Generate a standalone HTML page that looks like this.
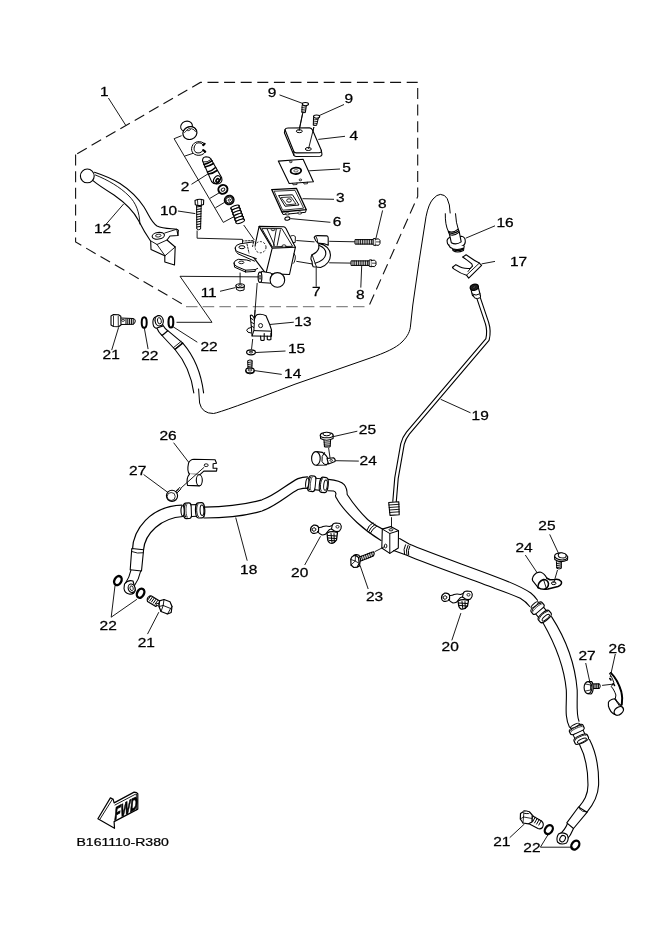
<!DOCTYPE html>
<html><head><meta charset="utf-8"><style>
html,body{margin:0;padding:0;background:#fff;overflow:hidden;}
svg{display:block;will-change:transform;}
text{font-family:"Liberation Sans",sans-serif;font-size:12.4px;fill:#000;stroke:#000;stroke-width:0.25px;}
</style></head><body>
<svg width="661" height="935" viewBox="0 0 661 935">
<rect width="661" height="935" fill="#fff"/>
<path d="M75.6,154.6 V242 L185.8,306" fill="none" stroke="#111" stroke-width="1.1" stroke-dasharray="11 5.6"/>
<path d="M417.7,82.4 H200.4 L75.6,154.6" fill="none" stroke="#111" stroke-width="1.1" stroke-dasharray="11 5.6"/>
<path d="M417.7,82.4 V196.5 L369.2,305.5" fill="none" stroke="#111" stroke-width="1.1" stroke-dasharray="11 5.6" stroke-dashoffset="11"/>
<path d="M186,306.6 L369,306.6" fill="none" stroke="#888" stroke-width="1.1" stroke-dasharray="11.5 5.2"/>
<line x1="108.4" y1="98" x2="125.8" y2="125.4" stroke="#000" stroke-width="0.9"/>
<line x1="279.5" y1="94.9" x2="303.1" y2="103.6" stroke="#000" stroke-width="0.9"/>
<line x1="344" y1="104.5" x2="317.6" y2="116.3" stroke="#000" stroke-width="0.9"/>
<line x1="318.3" y1="139.4" x2="345" y2="136.3" stroke="#000" stroke-width="0.9"/>
<line x1="309.2" y1="170.8" x2="340" y2="169" stroke="#000" stroke-width="0.9"/>
<line x1="302.5" y1="198.7" x2="334" y2="199.3" stroke="#000" stroke-width="0.9"/>
<line x1="290.4" y1="218.6" x2="330.4" y2="222.3" stroke="#000" stroke-width="0.9"/>
<line x1="382.6" y1="210.4" x2="375.9" y2="238.6" stroke="#000" stroke-width="0.9"/>
<line x1="360.8" y1="287.6" x2="361.7" y2="265.8" stroke="#000" stroke-width="0.9"/>
<line x1="316.2" y1="267.7" x2="316.2" y2="286.7" stroke="#000" stroke-width="0.9"/>
<line x1="235.4" y1="287.6" x2="220" y2="291.3" stroke="#000" stroke-width="0.9"/>
<line x1="106.3" y1="224" x2="123.6" y2="204" stroke="#000" stroke-width="0.9"/>
<line x1="177.9" y1="211" x2="195.3" y2="213.6" stroke="#000" stroke-width="0.9"/>
<line x1="269.6" y1="324.5" x2="293.8" y2="322.2" stroke="#000" stroke-width="0.9"/>
<line x1="256" y1="352.5" x2="285.5" y2="351" stroke="#000" stroke-width="0.9"/>
<line x1="254.5" y1="370.6" x2="281.7" y2="374.4" stroke="#000" stroke-width="0.9"/>
<line x1="111.7" y1="350.1" x2="118.6" y2="327.4" stroke="#000" stroke-width="0.9"/>
<line x1="148.1" y1="349.1" x2="144.2" y2="327.4" stroke="#000" stroke-width="0.9"/>
<line x1="197.3" y1="342.2" x2="172.7" y2="326.5" stroke="#000" stroke-width="0.9"/>
<line x1="465.7" y1="238.2" x2="495" y2="225.8" stroke="#000" stroke-width="0.9"/>
<line x1="481.6" y1="263.9" x2="495" y2="261.4" stroke="#000" stroke-width="0.9"/>
<line x1="173.6" y1="442.7" x2="189" y2="462.7" stroke="#000" stroke-width="0.9"/>
<line x1="143.6" y1="474.5" x2="168.1" y2="492.6" stroke="#000" stroke-width="0.9"/>
<line x1="330.8" y1="437.2" x2="357.3" y2="431.2" stroke="#000" stroke-width="0.9"/>
<line x1="335.4" y1="460.7" x2="358.8" y2="461.1" stroke="#000" stroke-width="0.9"/>
<line x1="235.7" y1="517.5" x2="247.2" y2="560.7" stroke="#000" stroke-width="0.9"/>
<line x1="304.7" y1="565" x2="320.5" y2="536.3" stroke="#000" stroke-width="0.9"/>
<line x1="368.2" y1="589" x2="360" y2="565.3" stroke="#000" stroke-width="0.9"/>
<line x1="549.7" y1="534.4" x2="558.7" y2="553.7" stroke="#000" stroke-width="0.9"/>
<line x1="525.3" y1="555" x2="538.2" y2="574.3" stroke="#000" stroke-width="0.9"/>
<line x1="585.7" y1="663" x2="589.6" y2="681" stroke="#000" stroke-width="0.9"/>
<line x1="615.3" y1="654" x2="610.2" y2="677.2" stroke="#000" stroke-width="0.9"/>
<line x1="509.7" y1="837.7" x2="524.5" y2="823.9" stroke="#000" stroke-width="0.9"/>
<polyline points="548.8,833.4 540.4,847.2 573.2,847.2" fill="none" stroke="#000" stroke-width="0.9" stroke-linejoin="miter"/>
<polyline points="115,585.7 111.2,617.2 136.9,599.3" fill="none" stroke="#000" stroke-width="0.9" stroke-linejoin="miter"/>
<line x1="147.5" y1="634.1" x2="158.8" y2="612.2" stroke="#000" stroke-width="0.9"/>
<line x1="451.8" y1="640.4" x2="460.9" y2="613.1" stroke="#000" stroke-width="0.9"/>
<g>
<path d="M302.1,105.6 L301.8,112.6 L305.4,112.6 L306.3,105.6 Z" fill="#fff" stroke="#000" stroke-width="1" stroke-linejoin="round" stroke-linecap="round" />
<path d="M302,107.5 l4,-.6 M301.9,109.5 l3.9,-.6 M301.9,111.3 l3.6,-.5" fill="none" stroke="#000" stroke-width="0.8" stroke-linejoin="round" stroke-linecap="round" />
<ellipse cx="305.4" cy="104.1" rx="3.1" ry="1.6" transform="rotate(0 305.4 104.1)" fill="#fff" stroke="#000" stroke-width="1.1"/>
<line x1="302.7" y1="113.2" x2="299.1" y2="129.8" stroke="#000" stroke-width="0.9"/>
<path d="M313.5,117.9 L313.3,125.4 L316.6,125.4 L318.4,117.9 Z" fill="#fff" stroke="#000" stroke-width="1" stroke-linejoin="round" stroke-linecap="round" />
<path d="M313.4,120 l4.2,-.6 M313.4,122 l3.8,-.6 M313.3,124 l3.4,-.5" fill="none" stroke="#000" stroke-width="0.8" stroke-linejoin="round" stroke-linecap="round" />
<ellipse cx="316.6" cy="116.6" rx="3.1" ry="1.6" transform="rotate(0 316.6 116.6)" fill="#fff" stroke="#000" stroke-width="1.1"/>
<line x1="313.9" y1="127.1" x2="308.5" y2="148.5" stroke="#000" stroke-width="0.9"/>
</g>
<path d="M285,129.7 Q285.5,128 288,128 L309.5,127.9 Q311.6,128 312.5,130 L321.3,150.3 Q321.8,152.5 319.5,152.6 L296.5,152.9 Q294.5,153 293.8,151.5 Z" fill="#fff" stroke="#000" stroke-width="1.1" stroke-linejoin="round" stroke-linecap="round" />
<path d="M285,129.7 L284.4,132.8 L294,155.5 Q294.8,156.5 296.5,156.5 L320,156.3 Q322.2,156 321.9,153.8 L321.3,150.3" fill="none" stroke="#000" stroke-width="1.1" stroke-linejoin="round" stroke-linecap="round" />
<path d="M293.8,151.5 L294,155.5" fill="none" stroke="#000" stroke-width="0.9" stroke-linejoin="round" stroke-linecap="round" />
<ellipse cx="299.3" cy="131.2" rx="3.0" ry="1.5" transform="rotate(0 299.3 131.2)" fill="#fff" stroke="#000" stroke-width="1.0"/>
<ellipse cx="308.3" cy="149.0" rx="3.0" ry="1.5" transform="rotate(0 308.3 149.0)" fill="#fff" stroke="#000" stroke-width="1.0"/>
<line x1="302.7" y1="113.2" x2="299.1" y2="131" stroke="#000" stroke-width="0.9"/>
<line x1="313.9" y1="127.1" x2="308.5" y2="149" stroke="#000" stroke-width="0.9"/>
<path d="M278.3,161.1 L303.1,159.3 L313.4,181.7 L289.2,183.5 Z" fill="#fff" stroke="#000" stroke-width="1.1" stroke-linejoin="round" stroke-linecap="round" />
<ellipse cx="295.9" cy="170.8" rx="5.3" ry="3.2" transform="rotate(-4 295.9 170.8)" fill="#fff" stroke="#000" stroke-width="1.8"/>
<ellipse cx="295.9" cy="170.8" rx="2.2" ry="1.2" transform="rotate(-4 295.9 170.8)" fill="#fff" stroke="#000" stroke-width="0.6"/>
<ellipse cx="290.8" cy="161.8" rx="1.3" ry="0.9" transform="rotate(0 290.8 161.8)" fill="#fff" stroke="#000" stroke-width="0.8"/>
<ellipse cx="300.4" cy="179.9" rx="1.3" ry="0.9" transform="rotate(0 300.4 179.9)" fill="#fff" stroke="#000" stroke-width="0.8"/>
<path d="M292.5,183.3 L293,184.8 L297,184.5 L297,183 M303.5,182.6 L304,184 L307.5,183.7 L307.4,182.2" fill="none" stroke="#000" stroke-width="0.8" stroke-linejoin="round" stroke-linecap="round" />
<path d="M271.7,189.6 L296.5,188.4 L306.2,209.6 L281.9,212 Z" fill="#fff" stroke="#000" stroke-width="1.3" stroke-linejoin="round" stroke-linecap="round" />
<path d="M274.5,191.2 L295,190.3 L303.6,208.2 L283,210.2 Z" fill="none" stroke="#000" stroke-width="0.8" stroke-linejoin="round" stroke-linecap="round" />
<path d="M279,195.5 L292.5,194.8 L299,205 L285.5,206.2 Z" fill="none" stroke="#000" stroke-width="1.0" stroke-linejoin="round" stroke-linecap="round" />
<path d="M281.5,197.5 L291,197 L296,204 L287,204.8 Z" fill="none" stroke="#000" stroke-width="0.8" stroke-linejoin="round" stroke-linecap="round" />
<ellipse cx="289" cy="200.5" rx="2.3" ry="1.7" transform="rotate(0 289 200.5)" fill="#fff" stroke="#000" stroke-width="0.9"/>
<path d="M281.9,212 L283,214.5 L305.5,212.3 L306.2,209.6" fill="none" stroke="#000" stroke-width="1.0" stroke-linejoin="round" stroke-linecap="round" />
<ellipse cx="287.4" cy="213.9" rx="2.0" ry="1.1" transform="rotate(0 287.4 213.9)" fill="#fff" stroke="#000" stroke-width="0.8"/>
<ellipse cx="299.7" cy="213" rx="2.0" ry="1.1" transform="rotate(0 299.7 213)" fill="#fff" stroke="#000" stroke-width="0.8"/>
<ellipse cx="287.4" cy="218.6" rx="2.6" ry="1.6" transform="rotate(-10 287.4 218.6)" fill="#fff" stroke="#000" stroke-width="1.1"/>
<polyline points="181.6,135.7 174.1,138.7 223.3,222.4 233.3,217" fill="none" stroke="#000" stroke-width="0.9" stroke-linejoin="miter"/>
<line x1="184.7" y1="156.1" x2="193.7" y2="153.1" stroke="#000" stroke-width="0.9"/>
<line x1="191.5" y1="184.3" x2="208.3" y2="173.7" stroke="#000" stroke-width="0.9"/>
<line x1="210" y1="198.3" x2="219.1" y2="192.9" stroke="#000" stroke-width="0.9"/>
<line x1="215.4" y1="207.8" x2="224.5" y2="202.4" stroke="#000" stroke-width="0.9"/>
<line x1="243.7" y1="225" x2="254.3" y2="240" stroke="#000" stroke-width="0.9"/>
<ellipse cx="186.5" cy="126.3" rx="6.0" ry="5.0" transform="rotate(-20 186.5 126.3)" fill="#fff" stroke="#000" stroke-width="1.1"/>
<ellipse cx="189.9" cy="133.0" rx="7.1" ry="6.4" transform="rotate(-20 189.9 133.0)" fill="#fff" stroke="#000" stroke-width="1.2"/>
<path d="M183.5,131 Q186,126.5 192,126.6 Q196,127.5 196.5,130.5" fill="none" stroke="#000" stroke-width="0.9" stroke-linejoin="round" stroke-linecap="round" />
<path d="M184.5,132.5 Q187,128.5 191.5,128.7 Q194.5,129.3 195.5,131.5" fill="none" stroke="#000" stroke-width="0.8" stroke-linejoin="round" stroke-linecap="round" />
<ellipse cx="188.8" cy="129.7" rx="1.7" ry="0.9" transform="rotate(-20 188.8 129.7)" fill="#fff" stroke="#000" stroke-width="0.7"/>
<path d="M204.6,143.8 C201,140.3 194,140.8 192,146.5 C190,152.5 195,156 200,155.2 C202.5,154.8 204.3,153.5 205.2,151.6 L203.2,150.2 C201.5,152.8 198.5,153.6 196,152.5 C193.2,150.5 193.5,146 196.5,143.5 C198.5,142.3 201.5,142.6 203.2,145.1 Z" fill="#fff" stroke="#000" stroke-width="1.0" stroke-linejoin="round" stroke-linecap="round" />
<path d="M204.6,143.8 L203.2,145.1 M205.2,151.6 L203.2,150.2" fill="none" stroke="#000" stroke-width="2.2" stroke-linejoin="round" stroke-linecap="round" />
<path d="M202.5,160.8 Q202.5,157 206,156.7 Q209.5,156.7 210.6,158.5 L221.6,177.5 Q223,182.5 218.5,183.8 Q213.5,184.5 211.6,181.6 Z" fill="#fff" stroke="#000" stroke-width="1.1" stroke-linejoin="round" stroke-linecap="round" />
<path d="M204,164.5 Q208,163.5 212,160.8 M205,167 Q209.5,166 213.5,163.5 M207.5,172 Q212,171 215.5,167.5 M208.5,174 Q213,173.5 217,170.5" fill="none" stroke="#000" stroke-width="1.6" stroke-linejoin="round" stroke-linecap="round" />
<path d="M203.5,162 Q207,162.8 211.2,159.5" fill="none" stroke="#000" stroke-width="0.9" stroke-linejoin="round" stroke-linecap="round" />
<ellipse cx="217.0" cy="179.6" rx="4.2" ry="3.0" transform="rotate(-55 217.0 179.6)" fill="#fff" stroke="#000" stroke-width="1.1"/>
<ellipse cx="217.6" cy="180.5" rx="1.9" ry="1.4" transform="rotate(-55 217.6 180.5)" fill="#fff" stroke="#000" stroke-width="1.6"/>
<ellipse cx="222.9" cy="189.4" rx="4.6" ry="4.3" transform="rotate(-30 222.9 189.4)" fill="#fff" stroke="#000" stroke-width="2.0"/>
<ellipse cx="223.0" cy="189.6" rx="2.0" ry="1.5" transform="rotate(-30 223.0 189.6)" fill="#fff" stroke="#000" stroke-width="0.9"/>
<ellipse cx="229.2" cy="200.0" rx="4.8" ry="4.6" transform="rotate(-30 229.2 200.0)" fill="#333" stroke="#000" stroke-width="1.4"/>
<ellipse cx="229.2" cy="200.0" rx="3.2" ry="2.9" transform="rotate(-30 229.2 200.0)" fill="#fff" stroke="#000" stroke-width="0.8"/>
<ellipse cx="229.4" cy="200.1" rx="1.3" ry="1.0" transform="rotate(-30 229.4 200.1)" fill="#fff" stroke="#000" stroke-width="0.8"/>
<g transform="translate(237.6 214.3) rotate(70)">
<ellipse cx="-7.5" cy="0" rx="1.7" ry="4.6" fill="#fff" stroke="#000" stroke-width="1.1"/>
<ellipse cx="-4.5" cy="0" rx="1.7" ry="4.6" fill="#fff" stroke="#000" stroke-width="1.1"/>
<ellipse cx="-1.5" cy="0" rx="1.7" ry="4.6" fill="#fff" stroke="#000" stroke-width="1.1"/>
<ellipse cx="1.5" cy="0" rx="1.7" ry="4.6" fill="#fff" stroke="#000" stroke-width="1.1"/>
<ellipse cx="4.5" cy="0" rx="1.7" ry="4.6" fill="#fff" stroke="#000" stroke-width="1.1"/>
<ellipse cx="7.5" cy="0" rx="1.7" ry="4.6" fill="#fff" stroke="#000" stroke-width="1.1"/>
<path d="M-8.5,-4 L7,-4.3 M-8.5,4 L7,4.3" fill="none" stroke="#000" stroke-width="0.9"/>
</g>
<path d="M196.6,204.5 L196.8,229 Q198.5,230.5 200.6,229 L201.2,204.5" fill="#fff" stroke="#000" stroke-width="1.0" stroke-linejoin="round" stroke-linecap="round" />
<path d="M196.7,207 l4.5,-.7 M196.7,209.5 l4.4,-.7 M196.7,212 l4.4,-.7 M196.7,214.5 l4.3,-.7 M196.8,217 l4.2,-.7 M196.8,219.5 l4.1,-.7 M196.8,222 l4,-.7 M196.8,224.5 l3.9,-.7 M196.8,227 l3.8,-.6" fill="none" stroke="#000" stroke-width="1.0" stroke-linejoin="round" stroke-linecap="round" />
<path d="M195,200.5 Q199,198.3 203.7,200 L203.5,204.5 Q199.5,206.5 195.3,204.8 Z" fill="#fff" stroke="#000" stroke-width="1.1" stroke-linejoin="round" stroke-linecap="round" />
<path d="M197.5,199.6 L197.8,205.3 M201.3,199.3 L201.5,205.2" fill="none" stroke="#000" stroke-width="0.8" stroke-linejoin="round" stroke-linecap="round" />
<polyline points="197.1,230.5 197.1,238.2 242.5,239.4 242.5,244.2" fill="none" stroke="#000" stroke-width="0.9" stroke-linejoin="miter"/>
<path d="M94.5,172.2 C103,175 112,178.5 120,183.5 C130,190 138,198 144,207 C149,215 151,222 157,226 C163,229 171,228.5 176.8,229.2 L178,235.5 L170,236 L167,240 L175.2,247 L174.5,265 L164.8,262 L164.8,255.8 L151,249.5 L150.7,241.2 C145,233 141.5,226.5 138.5,220.5 C133,210 124,202 114,195 C106,190 98,185 92.7,180.4" fill="#fff" stroke="#000" stroke-width="1.1" stroke-linejoin="round" stroke-linecap="round" />
<path d="M95.4,175 C108,180 120,187 129,196 C136,203 139.5,212 139.9,224" fill="none" stroke="#000" stroke-width="0.9" stroke-linejoin="round" stroke-linecap="round" />
<circle cx="87.3" cy="175.9" r="6.9" fill="#fff" stroke="#000" stroke-width="1.1"/>
<ellipse cx="158.3" cy="235.8" rx="6.2" ry="3.3" transform="rotate(-8 158.3 235.8)" fill="#fff" stroke="#000" stroke-width="1.1"/>
<ellipse cx="158.3" cy="235.6" rx="2.8" ry="1.4" transform="rotate(-8 158.3 235.6)" fill="#fff" stroke="#000" stroke-width="0.8"/>
<path d="M151,241 L157,244.5 L167,240 M157,244.5 L165,255.8 M165,255.8 L175.2,247" fill="none" stroke="#000" stroke-width="0.9" stroke-linejoin="round" stroke-linecap="round" />
<path d="M164.8,233 L176.8,229.2 L178.5,230 L178,235.5" fill="none" stroke="#000" stroke-width="0.9" stroke-linejoin="round" stroke-linecap="round" />
<path d="M259.1,226.4 L283.6,226.8 Q285,227 286,228.5 L295.4,247.2 L289.5,274.5 L265.9,273.6 L252.7,256.3 Z" fill="#fff" stroke="#000" stroke-width="1.1" stroke-linejoin="round" stroke-linecap="round" />
<path d="M259.1,226.4 L272.2,248.1 L295.4,247.2 M272.2,248.1 L265.9,273.6" fill="none" stroke="#000" stroke-width="1.1" stroke-linejoin="round" stroke-linecap="round" />
<path d="M262.2,228.6 L281.8,228.6 L292.6,246.3 L272.7,246.8 Z" fill="none" stroke="#000" stroke-width="0.9" stroke-linejoin="round" stroke-linecap="round" />
<path d="M267.2,229.1 L274.5,245.4 M276.3,229.1 L273.5,245.4 M280.4,230 L277.2,245.4" fill="none" stroke="#000" stroke-width="0.9" stroke-linejoin="round" stroke-linecap="round" />
<ellipse cx="273" cy="229.7" rx="1.8" ry="1.0" transform="rotate(0 273 229.7)" fill="#fff" stroke="#000" stroke-width="0.8"/>
<ellipse cx="284" cy="246.0" rx="2.0" ry="1.2" transform="rotate(0 284 246.0)" fill="#fff" stroke="#000" stroke-width="0.8"/>
<circle cx="260.4" cy="247.2" r="5.6" fill="none" stroke="#000" stroke-width="0.9" stroke-dasharray="2 1.6"/>
<path d="M290.8,236 Q294.5,234.5 295.4,237 L295.2,242.5 L293,242.7" fill="none" stroke="#000" stroke-width="0.9" stroke-linejoin="round" stroke-linecap="round" />
<path d="M294.2,253.6 Q296,256 295.2,259 Q294.5,263 293.2,263.6" fill="none" stroke="#000" stroke-width="0.9" stroke-linejoin="round" stroke-linecap="round" />
<path d="M254,241.8 L240,243.8 Q235.2,245 235.2,248 Q235.5,250.5 237,251.5 L256.4,258.7" fill="#fff" stroke="#000" stroke-width="1.0" stroke-linejoin="round" stroke-linecap="round" />
<path d="M235.2,248 L235.6,250.6 Q236.2,252.5 238,253.8 L254.5,261.1" fill="none" stroke="#000" stroke-width="1.0" stroke-linejoin="round" stroke-linecap="round" />
<path d="M242.5,241 L254,240.5 M247,244 L249,253 M253.5,242 L252.5,247" fill="none" stroke="#000" stroke-width="0.9" stroke-linejoin="round" stroke-linecap="round" stroke-dasharray="1.6 1.4"/>
<ellipse cx="241.9" cy="247.2" rx="3.0" ry="1.5" transform="rotate(0 241.9 247.2)" fill="#fff" stroke="#000" stroke-width="1.0"/>
<path d="M250.4,261.1 L246.7,260 L238.3,259.3 Q234.2,260.5 234,263 Q234.2,265.5 237,266.6 L245.5,270.2 L255.2,269.6 L257.6,268.4" fill="#fff" stroke="#000" stroke-width="1.0" stroke-linejoin="round" stroke-linecap="round" />
<path d="M234,263 L234.6,267.2 L245.5,272 L255.2,271.4 L255.2,269.6 M245.5,270.2 L245.5,272" fill="none" stroke="#000" stroke-width="1.0" stroke-linejoin="round" stroke-linecap="round" />
<ellipse cx="241.3" cy="262.4" rx="2.6" ry="1.3" transform="rotate(0 241.3 262.4)" fill="#fff" stroke="#000" stroke-width="0.9"/>
<path d="M261.8,271.5 L271,273 L276,283.5 L261.8,282.6 Z" fill="#fff" stroke="#000" stroke-width="1.0" stroke-linejoin="round" stroke-linecap="round" />
<ellipse cx="260.0" cy="277.3" rx="1.9" ry="5.2" transform="rotate(0 260.0 277.3)" fill="#fff" stroke="#000" stroke-width="1.1"/>
<ellipse cx="260.0" cy="277.3" rx="0.8" ry="2.3" transform="rotate(0 260.0 277.3)" fill="#fff" stroke="#000" stroke-width="0.7"/>
<circle cx="277.4" cy="279.9" r="7.3" fill="#fff" stroke="#000" stroke-width="1.1"/>
<path d="M236,285.5 L236.5,289.5 Q239.5,292 244,290 L244.3,286" fill="#fff" stroke="#000" stroke-width="1.0" stroke-linejoin="round" stroke-linecap="round" />
<ellipse cx="240.2" cy="285.8" rx="4.2" ry="2.0" transform="rotate(0 240.2 285.8)" fill="#fff" stroke="#000" stroke-width="1.1"/>
<ellipse cx="240.2" cy="285.4" rx="1.7" ry="0.9" transform="rotate(0 240.2 285.4)" fill="#fff" stroke="#000" stroke-width="0.8"/>
<line x1="240.1" y1="272.6" x2="240.1" y2="283.5" stroke="#000" stroke-width="0.9"/>
<polyline points="176.5,322.3 212,322.3 180,276.3 258.8,276.9" fill="none" stroke="#000" stroke-width="0.9" stroke-linejoin="miter"/>
<line x1="257.2" y1="283" x2="254.5" y2="317.5" stroke="#000" stroke-width="0.9"/>
<path d="M314.2,237.3 Q315,235.5 317.5,235.6 L327.2,235.9 Q328.2,236.3 328.2,238 L328.2,245.2 C326,244 322,243 318.2,243.3 Q315.5,241.5 314.2,237.3 Z" fill="#fff" stroke="#000" stroke-width="1.1" stroke-linejoin="round" stroke-linecap="round" />
<path d="M316,236.5 Q317.5,238.5 317.8,242.8" fill="none" stroke="#000" stroke-width="0.9" stroke-linejoin="round" stroke-linecap="round" />
<path d="M318.8,243.4 C334,246 334,263 320.6,267.5 L313.2,266.8 Q311.8,264 312.2,262 L310.9,259 Q311,256 312.1,254.7 C315,253.5 318,251 318.8,248 Z" fill="#fff" stroke="#000" stroke-width="1.1" stroke-linejoin="round" stroke-linecap="round" />
<path d="M319.4,245.6 C328.5,249.5 328.5,259.5 315.1,263.2" fill="none" stroke="#000" stroke-width="1.1" stroke-linejoin="round" stroke-linecap="round" />
<path d="M312.1,254.7 L315.1,263.2 L316.5,267" fill="none" stroke="#000" stroke-width="0.9" stroke-linejoin="round" stroke-linecap="round" />
<line x1="296.3" y1="240.5" x2="314.5" y2="241.9" stroke="#000" stroke-width="0.9"/>
<line x1="296.3" y1="261.3" x2="312.6" y2="264" stroke="#000" stroke-width="0.9"/>
<line x1="329.2" y1="241.3" x2="355.4" y2="241.8" stroke="#000" stroke-width="0.9"/>
<line x1="329.2" y1="262.8" x2="351.4" y2="263.1" stroke="#000" stroke-width="0.9"/>
<path d="M355.4,239.6 L373.6,239.6 L373.6,244.1 L355.4,244.1 Z" fill="#fff" stroke="#000" stroke-width="1.0" stroke-linejoin="round" stroke-linecap="round" />
<path d="M357,239.6 v4.5 M358.8,239.6 v4.5 M360.6,239.6 v4.5 M362.4,239.6 v4.5 M364.2,239.6 v4.5 M366,239.6 v4.5 M367.8,239.6 v4.5 M369.6,239.6 v4.5 M371.4,239.6 v4.5" fill="none" stroke="#000" stroke-width="0.9" stroke-linejoin="round" stroke-linecap="round" />
<path d="M373.4,238.8 L375.4,238.4 L375.4,245.6 L373.4,245 Z" fill="#fff" stroke="#000" stroke-width="1.0" stroke-linejoin="round" stroke-linecap="round" />
<path d="M375.4,239.2 L378.5,238.8 L380,240.5 L380,243.4 L378.5,245.4 L375.4,245" fill="#fff" stroke="#000" stroke-width="1.0" stroke-linejoin="round" stroke-linecap="round" />
<line x1="376" y1="241.9" x2="380" y2="241.9" stroke="#000" stroke-width="0.7"/>
<path d="M351.4,260.9 L369.6,260.9 L369.6,265.4 L351.4,265.4 Z" fill="#fff" stroke="#000" stroke-width="1.0" stroke-linejoin="round" stroke-linecap="round" />
<path d="M353,260.9 v4.5 M354.8,260.9 v4.5 M356.6,260.9 v4.5 M358.4,260.9 v4.5 M360.2,260.9 v4.5 M362,260.9 v4.5 M363.8,260.9 v4.5 M365.6,260.9 v4.5 M367.4,260.9 v4.5" fill="none" stroke="#000" stroke-width="0.9" stroke-linejoin="round" stroke-linecap="round" />
<path d="M369.4,260.1 L371.4,259.7 L371.4,266.9 L369.4,266.3 Z" fill="#fff" stroke="#000" stroke-width="1.0" stroke-linejoin="round" stroke-linecap="round" />
<path d="M371.4,260.5 L374.5,260.1 L376,261.8 L376,264.7 L374.5,266.7 L371.4,266.3" fill="#fff" stroke="#000" stroke-width="1.0" stroke-linejoin="round" stroke-linecap="round" />
<line x1="372" y1="263.2" x2="376" y2="263.2" stroke="#000" stroke-width="0.7"/>
<path d="M198.6,389 L199.6,403 Q202,413.5 213.5,413.5 Q221,412.5 295,384.2 L370,358.1 C385,352.8 396,348 402,342 C408,336 410.2,331 410.6,325 L412.8,305 L419.2,260.6 L426,216.8 Q428.5,204 433,199 Q437,194.4 440.4,194.4 Q445,194.5 447.2,198.6 Q450,204 450.2,213" fill="none" stroke="#000" stroke-width="1.0" stroke-linejoin="round" stroke-linecap="round" />
<path d="M175,349.5 C184,360 191,373 193.8,392.9 M182.8,343.2 C193,355 201,372 203.6,392.9" fill="none" stroke="#000" stroke-width="1.1" stroke-linejoin="round" stroke-linecap="round" />
<path d="M162,335.5 L175,349.5 L182.8,343.2 L167.8,330.7 Z" fill="#fff" stroke="#000" stroke-width="1.1" stroke-linejoin="round" stroke-linecap="round" />
<path d="M173.3,347.8 L181,341.5 M174.8,349 L182.3,342.8" fill="none" stroke="#000" stroke-width="0.9" stroke-linejoin="round" stroke-linecap="round" />
<path d="M156.7,327.8 Q158.5,332.5 162,335.5 L167.8,330.7 Q164.5,328 163.5,325.9" fill="#fff" stroke="#000" stroke-width="1.1" stroke-linejoin="round" stroke-linecap="round" />
<path d="M155.9,316.8 L159.2,315.6 L163.2,326 L156,328.2 Q152.8,327 152.9,322 Q153,318 155.9,316.8 Z" fill="#fff" stroke="#000" stroke-width="1.1" stroke-linejoin="round" stroke-linecap="round" />
<ellipse cx="159.2" cy="320.8" rx="4.1" ry="5.2" transform="rotate(-10 159.2 320.8)" fill="#fff" stroke="#000" stroke-width="1.2"/>
<ellipse cx="159.4" cy="320.8" rx="1.9" ry="3.2" transform="rotate(-10 159.4 320.8)" fill="#fff" stroke="#000" stroke-width="0.9"/>
<path d="M120.6,318 L133,318.5 Q135.5,319 135.3,321 Q135,324 133,324.3 L120.6,324.5 Z" fill="#fff" stroke="#000" stroke-width="1.0" stroke-linejoin="round" stroke-linecap="round" />
<path d="M126,319 v5.2 M127.8,319 v5.2 M129.6,319 v5.2 M131.4,319 v5.2 M133.2,319 v5.2" fill="none" stroke="#000" stroke-width="1.0" stroke-linejoin="round" stroke-linecap="round" />
<path d="M111,316 L113.5,314.5 L118.5,314.7 L120.8,316.3 L121,325 L118.5,326.7 L113.5,326.5 L111,325 Z" fill="#fff" stroke="#000" stroke-width="1.1" stroke-linejoin="round" stroke-linecap="round" />
<path d="M113.5,316 L113.5,325.5 M118.2,316.2 L118.3,325.8" fill="none" stroke="#000" stroke-width="0.8" stroke-linejoin="round" stroke-linecap="round" />
<ellipse cx="123" cy="320.3" rx="1.6" ry="1.0" transform="rotate(0 123 320.3)" fill="#fff" stroke="#000" stroke-width="0.8"/>
<ellipse cx="144.2" cy="322.5" rx="2.5" ry="5.3" transform="rotate(0 144.2 322.5)" fill="none" stroke="#000" stroke-width="2.0"/>
<ellipse cx="170.9" cy="322.0" rx="2.4" ry="5.5" transform="rotate(0 170.9 322.0)" fill="none" stroke="#000" stroke-width="2.1"/>
<path d="M132.4,550 C133,530 150,506 182,505.2 M143.5,550 C145,533 161,518 183,516.5" fill="none" stroke="#000" stroke-width="1.2" stroke-linejoin="round" stroke-linecap="round" />
<path d="M131.8,548.5 L143.6,549.8 L141.5,571 L130.2,569.8 Z" fill="#fff" stroke="#000" stroke-width="1.1" stroke-linejoin="round" stroke-linecap="round" />
<path d="M131.6,551.5 Q137.5,554 143.3,552.8" fill="none" stroke="#000" stroke-width="0.9" stroke-linejoin="round" stroke-linecap="round" />
<path d="M131,570 Q129.5,577 125.6,583 M140.7,571 Q139,579 134.5,585.5" fill="none" stroke="#000" stroke-width="1.1" stroke-linejoin="round" stroke-linecap="round" />
<path d="M124.5,584 Q128,579.5 133,581 L135.4,590 Q134,595 129,594 Q124.5,593 124,588.5 Z" fill="#fff" stroke="#000" stroke-width="1.1" stroke-linejoin="round" stroke-linecap="round" />
<ellipse cx="131.6" cy="588.2" rx="3.4" ry="4.3" transform="rotate(-15 131.6 588.2)" fill="#fff" stroke="#000" stroke-width="1.1"/>
<ellipse cx="131.6" cy="588.2" rx="1.6" ry="2.4" transform="rotate(-15 131.6 588.2)" fill="#fff" stroke="#000" stroke-width="0.8"/>
<ellipse cx="117.9" cy="580.6" rx="3.4" ry="4.8" transform="rotate(28 117.9 580.6)" fill="none" stroke="#000" stroke-width="2.4"/>
<ellipse cx="140.6" cy="593.2" rx="3.4" ry="4.8" transform="rotate(28 140.6 593.2)" fill="none" stroke="#000" stroke-width="2.4"/>
<path d="M148.8,596.6 Q146.5,598 147.5,601.5 L155.8,606.5 L160.5,601.5 L151.5,596 Q150,595.5 148.8,596.6 Z" fill="#fff" stroke="#000" stroke-width="1.1" stroke-linejoin="round" stroke-linecap="round" />
<path d="M150.5,596.2 l-2.6,3.6 M152.3,597.2 l-2.7,3.8 M154.1,598.3 l-2.7,3.8 M155.9,599.4 l-2.7,3.8 M157.7,600.5 l-2.6,3.7" fill="none" stroke="#000" stroke-width="1.0" stroke-linejoin="round" stroke-linecap="round" />
<path d="M159.5,600.8 L164,599.5 L170,601.8 L172,606.5 L171.2,612.5 L167.5,614 L161,611.5 L159,606.5 Z" fill="#fff" stroke="#000" stroke-width="1.2" stroke-linejoin="round" stroke-linecap="round" />
<path d="M164,599.5 L163.2,605.5 L159,606.5 M163.2,605.5 L170.6,608.5 L172,606.5 M170.6,608.5 L167.5,614 M163.2,605.5 L161,611.5" fill="none" stroke="#000" stroke-width="0.9" stroke-linejoin="round" stroke-linecap="round" />
<ellipse cx="157.5" cy="604.6" rx="1.6" ry="1.0" transform="rotate(30 157.5 604.6)" fill="#fff" stroke="#000" stroke-width="0.8"/>
<g transform="translate(180.8 511.0) rotate(-2) scale(1.0 1)">
<path d="M5,-7.8 L8.5,-7.8 A2.8,7.8 0 0 1 8.5,7.8 L5,7.8 A2.8,7.8 0 0 1 5,-7.8 Z" fill="#fff" stroke="#000" stroke-width="1.2"/>
<path d="M5.5,-6.3 A2,6.3 0 0 0 5.5,6.3" fill="none" stroke="#000" stroke-width="1.0"/>
<ellipse cx="1.8" cy="0" rx="1.6" ry="5.2" fill="#fff" stroke="#000" stroke-width="1.1"/>
<path d="M6.8,-6.8 A1.6,6.8 0 0 0 6.8,6.8" fill="none" stroke="#000" stroke-width="0.7"/>
<rect x="10.5" y="-5.8" width="6" height="11.6" fill="#fff" stroke="#000" stroke-width="1.0"/>
<path d="M17.5,-7.6 L21.2,-7.6 A2.8,7.6 0 0 1 21.2,7.6 L17.5,7.6 A2.8,7.6 0 0 1 17.5,-7.6 Z" fill="#fff" stroke="#000" stroke-width="1.2"/>
<path d="M17.9,-6.3999999999999995 A2,6.3999999999999995 0 0 0 17.9,6.3999999999999995" fill="none" stroke="#000" stroke-width="0.9"/>
<ellipse cx="21.2" cy="0" rx="1.9" ry="5.2" fill="#fff" stroke="#000" stroke-width="1.0"/>
</g>
<path d="M204,507.2 C225,506.8 246,504.5 262,499.8 C276,495 287,484 298,478.6 C302,477 305,476.8 307.5,476.8 M204,518 C225,518 246,516 262,511 C276,506 288,495 298,489.5 C302,488.5 305,488.2 307.5,488.2" fill="none" stroke="#000" stroke-width="1.2" stroke-linejoin="round" stroke-linecap="round" />
<g transform="translate(305.5 483.0) rotate(6) scale(0.95 1)">
<path d="M5,-7.8 L8.5,-7.8 A2.8,7.8 0 0 1 8.5,7.8 L5,7.8 A2.8,7.8 0 0 1 5,-7.8 Z" fill="#fff" stroke="#000" stroke-width="1.2"/>
<path d="M5.5,-6.3 A2,6.3 0 0 0 5.5,6.3" fill="none" stroke="#000" stroke-width="1.0"/>
<ellipse cx="1.8" cy="0" rx="1.6" ry="5.2" fill="#fff" stroke="#000" stroke-width="1.1"/>
<path d="M6.8,-6.8 A1.6,6.8 0 0 0 6.8,6.8" fill="none" stroke="#000" stroke-width="0.7"/>
<rect x="10.5" y="-5.8" width="6" height="11.6" fill="#fff" stroke="#000" stroke-width="1.0"/>
<path d="M17.5,-7.6 L21.2,-7.6 A2.8,7.6 0 0 1 21.2,7.6 L17.5,7.6 A2.8,7.6 0 0 1 17.5,-7.6 Z" fill="#fff" stroke="#000" stroke-width="1.2"/>
<path d="M17.9,-6.3999999999999995 A2,6.3999999999999995 0 0 0 17.9,6.3999999999999995" fill="none" stroke="#000" stroke-width="0.9"/>
<ellipse cx="21.2" cy="0" rx="1.9" ry="5.2" fill="#fff" stroke="#000" stroke-width="1.0"/>
</g>
<path d="M328.3,479.4 C335,480 341,481 344.2,484.7 Q347,488 347.2,494.5 C352,502 360,512 367.6,519.5 C374,525 380,528 386,530.5" fill="none" stroke="#000" stroke-width="1.1" stroke-linejoin="round" stroke-linecap="round" />
<path d="M328.3,490.7 L333.6,491 Q336.5,492 335.8,494.5 Q335,496.5 336.6,498.3 C340,505 346,512 357,522.5 C364,529 372,535 381,540.5" fill="none" stroke="#000" stroke-width="1.1" stroke-linejoin="round" stroke-linecap="round" />
<path d="M366.8,530.5 Q368.5,525 373,522.8 M368.5,532 Q370.5,527 375,524.5 M370.2,533.5 Q372.5,528.5 376.5,526.3" fill="none" stroke="#000" stroke-width="1.0" stroke-linejoin="round" stroke-linecap="round" />
<path d="M382.3,529.1 L390.7,526.6 L398.5,530.8 L398.3,548 L389.8,553.4 L381.8,548 Z" fill="#fff" stroke="#000" stroke-width="1.1" stroke-linejoin="round" stroke-linecap="round" />
<path d="M382.3,529.1 L389.8,533.5 L398.5,530.8 M389.8,533.5 L389.8,553.4" fill="none" stroke="#000" stroke-width="1.0" stroke-linejoin="round" stroke-linecap="round" />
<ellipse cx="391.0" cy="529.8" rx="2.0" ry="1.1" transform="rotate(0 391.0 529.8)" fill="#fff" stroke="#000" stroke-width="0.9"/>
<ellipse cx="385.6" cy="546.0" rx="1.3" ry="1.9" transform="rotate(0 385.6 546.0)" fill="#fff" stroke="#000" stroke-width="0.9"/>
<path d="M399.6,538.5 L409.1,544 C430,553 465,565 495,576.4 C510,582 522,587 530.8,593 C533.5,595 535.5,597.5 537.5,600.3" fill="none" stroke="#000" stroke-width="1.1" stroke-linejoin="round" stroke-linecap="round" />
<path d="M393.6,550.5 L406.8,555.3 C432,566 468,578 495,588.5 C505,592 513,595 520.3,598.3 C524,600.5 527,603 529.7,606.5" fill="none" stroke="#000" stroke-width="1.1" stroke-linejoin="round" stroke-linecap="round" />
<path d="M404.5,554 Q403,549.5 405.5,544.8 M406.8,554.6 Q405.5,550 408,545.4 M408.6,555 Q407.5,550.5 409.8,546" fill="none" stroke="#000" stroke-width="1.0" stroke-linejoin="round" stroke-linecap="round" />
<g transform="translate(533.6 603.7) rotate(49) scale(0.875 1)">
<path d="M5,-7.2 L8.5,-7.2 A2.8,7.2 0 0 1 8.5,7.2 L5,7.2 A2.8,7.2 0 0 1 5,-7.2 Z" fill="#fff" stroke="#000" stroke-width="1.2"/>
<path d="M5.5,-5.7 A2,5.7 0 0 0 5.5,5.7" fill="none" stroke="#000" stroke-width="1.0"/>
<ellipse cx="1.8" cy="0" rx="1.6" ry="4.6000000000000005" fill="#fff" stroke="#000" stroke-width="1.1"/>
<path d="M6.8,-6.2 A1.6,6.2 0 0 0 6.8,6.2" fill="none" stroke="#000" stroke-width="0.7"/>
<rect x="10.5" y="-5.2" width="6" height="10.4" fill="#fff" stroke="#000" stroke-width="1.0"/>
<path d="M17.5,-7.0 L21.2,-7.0 A2.8,7.0 0 0 1 21.2,7.0 L17.5,7.0 A2.8,7.0 0 0 1 17.5,-7.0 Z" fill="#fff" stroke="#000" stroke-width="1.2"/>
<path d="M17.9,-5.8 A2,5.8 0 0 0 17.9,5.8" fill="none" stroke="#000" stroke-width="0.9"/>
<ellipse cx="21.2" cy="0" rx="1.9" ry="4.6000000000000005" fill="#fff" stroke="#000" stroke-width="1.0"/>
</g>
<path d="M543,622.7 C554,642 564,664 566.3,690 C567,705 564,716 569.5,727.2" fill="none" stroke="#000" stroke-width="1.1" stroke-linejoin="round" stroke-linecap="round" />
<path d="M551.5,616.6 C564,636 575,662 577.2,690 C577.5,703 576,714 579,721.3" fill="none" stroke="#000" stroke-width="1.1" stroke-linejoin="round" stroke-linecap="round" />
<g transform="translate(574.3 724.3) rotate(65) scale(0.85 1)">
<path d="M5,-7.5 L8.5,-7.5 A2.8,7.5 0 0 1 8.5,7.5 L5,7.5 A2.8,7.5 0 0 1 5,-7.5 Z" fill="#fff" stroke="#000" stroke-width="1.2"/>
<path d="M5.5,-6.0 A2,6.0 0 0 0 5.5,6.0" fill="none" stroke="#000" stroke-width="1.0"/>
<ellipse cx="1.8" cy="0" rx="1.6" ry="4.9" fill="#fff" stroke="#000" stroke-width="1.1"/>
<path d="M6.8,-6.5 A1.6,6.5 0 0 0 6.8,6.5" fill="none" stroke="#000" stroke-width="0.7"/>
<rect x="10.5" y="-5.5" width="6" height="11.0" fill="#fff" stroke="#000" stroke-width="1.0"/>
<path d="M17.5,-7.3 L21.2,-7.3 A2.8,7.3 0 0 1 21.2,7.3 L17.5,7.3 A2.8,7.3 0 0 1 17.5,-7.3 Z" fill="#fff" stroke="#000" stroke-width="1.2"/>
<path d="M17.9,-6.1 A2,6.1 0 0 0 17.9,6.1" fill="none" stroke="#000" stroke-width="0.9"/>
<ellipse cx="21.2" cy="0" rx="1.9" ry="4.9" fill="#fff" stroke="#000" stroke-width="1.0"/>
</g>
<path d="M579.5,744.5 C585,755 588,768 588,785 C588,795 584,801 578.8,807.2 M589.5,739.5 C596,752 599,768 598.6,785 C598,797 593,805 586.8,812.3" fill="none" stroke="#000" stroke-width="1.1" stroke-linejoin="round" stroke-linecap="round" />
<path d="M578.5,807 L587,812.3 L573.5,828.5 L566.8,822.9 Z" fill="#fff" stroke="#000" stroke-width="1.1" stroke-linejoin="round" stroke-linecap="round" />
<path d="M579,808.5 Q582.5,812.5 586.5,812" fill="none" stroke="#000" stroke-width="0.8" stroke-linejoin="round" stroke-linecap="round" />
<path d="M567.5,823.5 Q565,830 559,835 M573.5,828.5 Q571,835 566,841" fill="none" stroke="#000" stroke-width="1.1" stroke-linejoin="round" stroke-linecap="round" />
<path d="M558.5,834 Q563,831.5 567,834.5 Q569.5,839 566.5,843 Q561,845.5 557.5,842 Q556,838 558.5,834 Z" fill="#fff" stroke="#000" stroke-width="1.1" stroke-linejoin="round" stroke-linecap="round" />
<ellipse cx="562.6" cy="838.7" rx="2.6" ry="3.3" transform="rotate(30 562.6 838.7)" fill="#fff" stroke="#000" stroke-width="1.1"/>
<ellipse cx="548.8" cy="829.6" rx="3.6" ry="4.8" transform="rotate(35 548.8 829.6)" fill="none" stroke="#000" stroke-width="2.3"/>
<ellipse cx="575.3" cy="845.1" rx="3.6" ry="4.8" transform="rotate(35 575.3 845.1)" fill="none" stroke="#000" stroke-width="2.3"/>
<path d="M531,815 L541.5,821 Q544.5,823.5 542.5,827.5 Q540.5,829.5 538,828.5 L528.5,823.5 Z" fill="#fff" stroke="#000" stroke-width="1.1" stroke-linejoin="round" stroke-linecap="round" />
<path d="M533.2,816 l-2.6,4.5 M535.2,817.2 l-2.6,4.5 M537.2,818.4 l-2.6,4.5 M539.2,819.6 l-2.6,4.5 M541.2,820.8 l-2.4,4.3" fill="none" stroke="#000" stroke-width="1.0" stroke-linejoin="round" stroke-linecap="round" />
<ellipse cx="531.5" cy="820.5" rx="1.5" ry="1.0" transform="rotate(30 531.5 820.5)" fill="#fff" stroke="#000" stroke-width="0.8"/>
<path d="M520.5,813.5 L524,811.2 L529.5,811.8 L532.2,815 L532,822 L528.5,823.8 L523,823 L520.3,819 Z" fill="#fff" stroke="#000" stroke-width="1.2" stroke-linejoin="round" stroke-linecap="round" />
<path d="M524,811.2 L523.5,817 L520.3,819 M523.5,817 L532,818.5 M523.5,817 L523,823" fill="none" stroke="#000" stroke-width="0.8" stroke-linejoin="round" stroke-linecap="round" />
<ellipse cx="526.2" cy="812.3" rx="3.5" ry="1.3" transform="rotate(5 526.2 812.3)" fill="#fff" stroke="#000" stroke-width="0.9"/>
<path d="M477.9,296 L487,323 Q489.5,331 487.5,339.5 L408,433 Q404,438 402.5,444 L396.5,478 L394.5,502" fill="none" stroke="#000" stroke-width="4.6" stroke-linejoin="round"/>
<path d="M477.9,296 L487,323 Q489.5,331 487.5,339.5 L408,433 Q404,438 402.5,444 L396.5,478 L394.5,502" fill="none" stroke="#fff" stroke-width="2.4" stroke-linejoin="round"/>
<line x1="440.7" y1="399.3" x2="470.5" y2="412.8" stroke="#000" stroke-width="0.9"/>
<path d="M470.6,288 L472.5,295.5 Q476,298.5 480.5,295.8 L478.2,287 Z" fill="#fff" stroke="#000" stroke-width="1.1" stroke-linejoin="round" stroke-linecap="round" />
<path d="M472.2,294 Q476,296.5 480,293.8 M473.5,295.6 L474.5,298 Q477.5,299.5 480.5,297.5 L480.5,295.8" fill="#fff" stroke="#000" stroke-width="1.0" stroke-linejoin="round" stroke-linecap="round" />
<ellipse cx="474.3" cy="287.2" rx="4.2" ry="3.0" transform="rotate(-15 474.3 287.2)" fill="#222" stroke="#000" stroke-width="1.3"/>
<ellipse cx="474.3" cy="287.0" rx="1.5" ry="0.9" transform="rotate(-15 474.3 287.0)" fill="#666" stroke="#000" stroke-width="0.6"/>
<path d="M388.7,502.5 L398.8,501.8 L399.2,514.8 L390,515.4 Z" fill="#fff" stroke="#000" stroke-width="1.1" stroke-linejoin="round" stroke-linecap="round" />
<path d="M389,505 l10,-.7 M389.2,507.5 l10,-.7 M389.4,510 l9.8,-.7 M389.6,512.5 l9.6,-.7" fill="none" stroke="#000" stroke-width="0.9" stroke-linejoin="round" stroke-linecap="round" />
<line x1="391.5" y1="517.2" x2="391.5" y2="527.5" stroke="#000" stroke-width="0.9"/>
<path d="M254.5,319.1 Q255.5,315 257.5,314.5 Q261.8,313.5 266,315.7 L269.7,324.5 L271.5,330 L271.5,336.2 L252.1,336 L250.3,315.4 Q252.5,314 254.5,319.1 Z" fill="#fff" stroke="#000" stroke-width="1.1" stroke-linejoin="round" stroke-linecap="round" />
<path d="M254.5,319.1 L253.9,330.6 L271.5,331.2 M253.9,330.6 L252.1,336" fill="none" stroke="#000" stroke-width="1.0" stroke-linejoin="round" stroke-linecap="round" />
<path d="M250.6,318 l2.8,2 M251,322 l2.6,1.6 M251.3,326 l2.4,1.4" fill="none" stroke="#000" stroke-width="1.0" stroke-linejoin="round" stroke-linecap="round" />
<path d="M250.9,327.5 Q247,328 246.7,330.3 Q247,332.8 250.9,333" fill="#fff" stroke="#000" stroke-width="1.0" stroke-linejoin="round" stroke-linecap="round" />
<ellipse cx="260.6" cy="325.6" rx="2.0" ry="2.1" transform="rotate(0 260.6 325.6)" fill="#fff" stroke="#000" stroke-width="0.9"/>
<path d="M260.6,336 L260.8,340 Q262.5,341 264.2,340 L264.2,333.5 M267.2,336 L267.3,339.5 Q269,340.3 270.9,339.5 L270.9,333" fill="none" stroke="#000" stroke-width="1.1" stroke-linejoin="round" stroke-linecap="round" />
<line x1="255.1" y1="310" x2="254.5" y2="317.6" stroke="#000" stroke-width="0.9"/>
<line x1="252.7" y1="339" x2="251.5" y2="349.5" stroke="#000" stroke-width="0.9"/>
<ellipse cx="251.0" cy="352.3" rx="4.4" ry="2.5" transform="rotate(0 251.0 352.3)" fill="#fff" stroke="#000" stroke-width="1.2"/>
<ellipse cx="251.0" cy="352.1" rx="1.7" ry="0.9" transform="rotate(0 251.0 352.1)" fill="#fff" stroke="#000" stroke-width="0.9"/>
<path d="M248,360.5 Q250,359.3 252.2,360.5 L251.8,368.5 L248.4,368.5 Z" fill="#fff" stroke="#000" stroke-width="1.0" stroke-linejoin="round" stroke-linecap="round" />
<path d="M248,362.5 l4,-.6 M248.1,364.5 l3.9,-.6 M248.2,366.5 l3.7,-.6" fill="none" stroke="#000" stroke-width="0.9" stroke-linejoin="round" stroke-linecap="round" />
<ellipse cx="250.0" cy="370.4" rx="4.2" ry="2.5" transform="rotate(0 250.0 370.4)" fill="#fff" stroke="#000" stroke-width="1.2"/>
<ellipse cx="250.0" cy="370.0" rx="2.0" ry="1.0" transform="rotate(0 250.0 370.0)" fill="#fff" stroke="#000" stroke-width="0.8"/>
<path d="M245.8,370.4 L246.2,372.8 Q250,375 253.8,372.8 L254.2,370.4" fill="none" stroke="#000" stroke-width="1.0" stroke-linejoin="round" stroke-linecap="round" />
<path d="M447.2,241.9 Q446.5,239 449.5,237.4 L461.6,236.3 Q465.5,237 465.3,241.9 Q465,245 462.7,245.7 Q459,248.5 455.1,247.6 L448.7,245 Q447.2,244 447.2,241.9 Z" fill="#fff" stroke="#000" stroke-width="1.1" stroke-linejoin="round" stroke-linecap="round" />
<path d="M448.7,245 Q449.5,247.5 452.5,248.5 L453,250.5 Q457,253.5 463.5,250.5 L464.2,246 M452.8,248.8 Q458,250.5 463.8,248" fill="#fff" stroke="#000" stroke-width="1.1" stroke-linejoin="round" stroke-linecap="round" />
<path d="M453.5,249.7 Q458,251.5 462.8,249.3" fill="none" stroke="#000" stroke-width="1.4" stroke-linejoin="round" stroke-linecap="round" />
<path d="M449.5,234.4 L451.3,242.7 Q456,245.5 461.2,241.9 L459.3,232.1 Z" fill="#fff" stroke="#000" stroke-width="1.1" stroke-linejoin="round" stroke-linecap="round" />
<path d="M448.3,231.3 Q453,233.5 458.2,229.1 L459.3,232.1 Q454,236.5 449.5,234.4 Z" fill="#fff" stroke="#000" stroke-width="1.1" stroke-linejoin="round" stroke-linecap="round" />
<path d="M449,232.6 Q454,234.5 458.7,230.8" fill="none" stroke="#000" stroke-width="1.3" stroke-linejoin="round" stroke-linecap="round" />
<path d="M445.3,213.7 Q445,225 448.3,231.3 M455.5,213.7 Q456,223 458.2,229.1" fill="none" stroke="#000" stroke-width="1.0" stroke-linejoin="round" stroke-linecap="round" />
<path d="M462.7,257.1 L466.1,254.8 C470,257 473,260 479.3,263.1 L481.6,265.4 L468.7,278.2 L466.5,275.2 C460,273.5 457,271 453.2,268.4 L452.5,267.3 L455.9,264.6 C460,267 463,269 470.3,268.4 L472.5,266.1 L471.8,263.9 C469,261.5 467,260 465,258.6 Z" fill="#fff" stroke="#000" stroke-width="1.1" stroke-linejoin="round" stroke-linecap="round" />
<path d="M466.5,275.2 L479.3,263.1 M452.5,267.3 L453.2,268.4 M462.7,257.1 L465,258.6 M470.3,268.4 L468,271.5" fill="none" stroke="#000" stroke-width="0.9" stroke-linejoin="round" stroke-linecap="round" />
<path d="M310.5,530 Q310.5,526.5 313.5,525.2 Q317.5,524.5 318.6,527.5 L318.5,531.5 Q316.5,534 312.5,533.2 Q310.6,532.5 310.5,530 Z" fill="#fff" stroke="#000" stroke-width="1.2" stroke-linejoin="round" stroke-linecap="round" />
<ellipse cx="314" cy="529.5" rx="2.0" ry="1.6" transform="rotate(-20 314 529.5)" fill="#fff" stroke="#000" stroke-width="0.9"/>
<path d="M317.5,531.5 Q319.5,534 322,535 Q326,535 327.5,531.8 Q329.5,528.5 331.5,529 M318.6,527.5 Q321,527.8 323,526.5 Q326,525.5 329.5,526.5 L332.2,525.5" fill="none" stroke="#000" stroke-width="1.1" stroke-linejoin="round" stroke-linecap="round" />
<path d="M332.2,525.5 Q333,523 336,523 L340,523.5 Q341.8,525.5 341,528.5 L339.5,531 Q337,532 334.5,531 L331.5,529 Z" fill="#fff" stroke="#000" stroke-width="1.1" stroke-linejoin="round" stroke-linecap="round" />
<ellipse cx="337.5" cy="526.8" rx="1.6" ry="1.3" transform="rotate(0 337.5 526.8)" fill="#fff" stroke="#000" stroke-width="0.8"/>
<path d="M327,533 Q331.5,530.5 337.5,532.5 L336.5,540 Q333.5,544.5 330,543 Q327.5,541.5 327.5,537.5 Z" fill="#fff" stroke="#000" stroke-width="1.3" stroke-linejoin="round" stroke-linecap="round" />
<path d="M328,535.5 l8.5,0.5 M328.5,538 l7.5,0.5 M329.5,540.5 l6,0.3 M331,533.5 l1,9 M334,533.6 l0.3,9" fill="none" stroke="#000" stroke-width="1.0" stroke-linejoin="round" stroke-linecap="round" />
<path d="M441.5,598 Q441.5,594.5 444.5,593.2 Q448.5,592.5 449.6,595.5 L449.5,599.5 Q447.5,602 443.5,601.2 Q441.6,600.5 441.5,598 Z" fill="#fff" stroke="#000" stroke-width="1.2" stroke-linejoin="round" stroke-linecap="round" />
<ellipse cx="445" cy="597.5" rx="2.0" ry="1.6" transform="rotate(-20 445 597.5)" fill="#fff" stroke="#000" stroke-width="0.9"/>
<path d="M448.5,599.5 Q450.5,602 453,603 Q457,603 458.5,599.8 Q460.5,596.5 462.5,597 M449.6,595.5 Q452,595.8 454,594.5 Q457,593.5 460.5,594.5 L463.2,593.5" fill="none" stroke="#000" stroke-width="1.1" stroke-linejoin="round" stroke-linecap="round" />
<path d="M463.2,593.5 Q464,591 467,591 L471,591.5 Q472.8,593.5 472,596.5 L470.5,599 Q468,600 465.5,599 L462.5,597 Z" fill="#fff" stroke="#000" stroke-width="1.1" stroke-linejoin="round" stroke-linecap="round" />
<ellipse cx="468.5" cy="594.8" rx="1.6" ry="1.3" transform="rotate(0 468.5 594.8)" fill="#fff" stroke="#000" stroke-width="0.8"/>
<path d="M458,601 Q462.5,598.5 468.5,600.5 L467.5,606 Q464.5,610 461,609 Q458.5,607.5 458.5,604 Z" fill="#fff" stroke="#000" stroke-width="1.3" stroke-linejoin="round" stroke-linecap="round" />
<path d="M459,603 l8.5,0.5 M459.5,605.5 l7.5,0.5 M462,601.5 l0.8,7 M465,601.6 l0.3,7" fill="none" stroke="#000" stroke-width="1.0" stroke-linejoin="round" stroke-linecap="round" />
<path d="M359.2,557.1 L373.4,551.7 Q375,553.5 373.4,555.9 L360.1,561.3 Z" fill="#fff" stroke="#000" stroke-width="1.1" stroke-linejoin="round" stroke-linecap="round" />
<path d="M361.5,556.2 l1,4.2 M363.5,555.4 l1,4.2 M365.5,554.6 l1,4.2 M367.5,553.8 l1,4.2 M369.5,553 l1,4.2 M371.5,552.2 l1,4.2" fill="none" stroke="#000" stroke-width="1.0" stroke-linejoin="round" stroke-linecap="round" />
<path d="M353.5,555.5 Q356,554 359,555.2 L360.5,559 L359.5,566 Q357,567.5 354.7,567 Z" fill="#fff" stroke="#000" stroke-width="1.1" stroke-linejoin="round" stroke-linecap="round" />
<path d="M352.2,556.5 L355.5,555.2 L358.5,557.5 L359.2,563.5 L357,567.2 L353.8,567.5 L351,565 L350.8,559 Z" fill="#fff" stroke="#000" stroke-width="1.2" stroke-linejoin="round" stroke-linecap="round" />
<path d="M355.5,555.2 L355.2,561 L351,565 M355.2,561 L359,563.3 M355.2,561 L350.9,559.5" fill="none" stroke="#000" stroke-width="0.8" stroke-linejoin="round" stroke-linecap="round" />
<line x1="374.7" y1="551.7" x2="384.3" y2="546.8" stroke="#000" stroke-width="0.9"/>
<path d="M188.5,463.3 Q190,459.5 194,459.3 L215.1,459.8 L216.5,463.3 L213.1,463.8 L213.1,468.2 L217,468.2 L216.5,471.1 L203.8,471.1 L200,474.6 L189.5,474.1 Q186.8,471 188.5,463.3 Z" fill="#fff" stroke="#000" stroke-width="1.1" stroke-linejoin="round" stroke-linecap="round" />
<path d="M189.5,474.1 Q186,478 187.5,485.4 L199.3,485.9 L199.3,474.6" fill="#fff" stroke="#000" stroke-width="1.1" stroke-linejoin="round" stroke-linecap="round" />
<ellipse cx="199.3" cy="480.3" rx="3.0" ry="5.5" transform="rotate(0 199.3 480.3)" fill="#fff" stroke="#000" stroke-width="1.1"/>
<ellipse cx="206.2" cy="465.2" rx="2.0" ry="1.4" transform="rotate(0 206.2 465.2)" fill="#fff" stroke="#000" stroke-width="0.9"/>
<line x1="204.2" y1="467.2" x2="181.1" y2="487.9" stroke="#000" stroke-width="0.9"/>
<path d="M176.2,491 L179.8,487.5 L181,488.8 L177.5,492.5 Z" fill="#fff" stroke="#000" stroke-width="1.0" stroke-linejoin="round" stroke-linecap="round" />
<path d="M177,490.2 l1.3,1.3 M178,489.2 l1.3,1.3" fill="none" stroke="#000" stroke-width="0.8" stroke-linejoin="round" stroke-linecap="round" />
<circle cx="172" cy="495.8" r="5.6" fill="#fff" stroke="#000" stroke-width="1.1"/>
<circle cx="171.2" cy="496.5" r="4.0" fill="none" stroke="#000" stroke-width="0.8"/>
<path d="M316.5,451.6 L322.5,452.4 Q327,455 328.6,460.5 Q329,463.5 326,465 L316.5,465.2" fill="#fff" stroke="#000" stroke-width="1.1" stroke-linejoin="round" stroke-linecap="round" />
<ellipse cx="315.9" cy="458.4" rx="4.3" ry="6.8" transform="rotate(0 315.9 458.4)" fill="#fff" stroke="#000" stroke-width="1.1"/>
<path d="M324.5,452.5 Q321,456 322,461.5 Q323.5,465 326.5,464.8" fill="none" stroke="#000" stroke-width="1.0" stroke-linejoin="round" stroke-linecap="round" />
<path d="M327,458.5 L333.5,457.7 Q336,459.5 335,461.5 L328.5,464 Z" fill="#fff" stroke="#000" stroke-width="1.1" stroke-linejoin="round" stroke-linecap="round" />
<ellipse cx="331.2" cy="460.4" rx="1.3" ry="0.9" transform="rotate(0 331.2 460.4)" fill="#fff" stroke="#000" stroke-width="0.8"/>
<path d="M324,440.3 L324.5,447 L330.1,447 L330.6,440.3" fill="#fff" stroke="#000" stroke-width="1.0" stroke-linejoin="round" stroke-linecap="round" />
<path d="M324.1,442.2 l6.3,-.4 M324.2,444.2 l6.1,-.4 M324.3,446 l5.9,-.3" fill="none" stroke="#000" stroke-width="0.9" stroke-linejoin="round" stroke-linecap="round" />
<path d="M320.3,435 L320.6,438.5 Q326.5,442 333.1,438.5 L333.1,435" fill="#fff" stroke="#000" stroke-width="1.1" stroke-linejoin="round" stroke-linecap="round" />
<ellipse cx="326.7" cy="435.2" rx="6.4" ry="2.6" transform="rotate(0 326.7 435.2)" fill="#fff" stroke="#000" stroke-width="1.1"/>
<ellipse cx="326.7" cy="434.0" rx="3.8" ry="1.8" transform="rotate(0 326.7 434.0)" fill="#fff" stroke="#000" stroke-width="1.0"/>
<line x1="328.6" y1="447.8" x2="330.1" y2="458.5" stroke="#000" stroke-width="0.9"/>
<path d="M532.6,580.6 Q531.5,576.5 536.3,573 Q539,571.8 540.9,572.2 Q544.5,573.5 546.9,578.3 L549,582 L540,588.5 Q537.5,588 537.9,587.4 Z" fill="#fff" stroke="#000" stroke-width="1.1" stroke-linejoin="round" stroke-linecap="round" />
<path d="M538.6,587.6 Q540.5,590 548,589 L558,586.5 Q562.5,584.5 561.3,581.5 Q559,579 555.3,579.4 L550,579.8 L546.9,578.3" fill="#fff" stroke="#000" stroke-width="1.5" stroke-linejoin="round" stroke-linecap="round" />
<path d="M537.9,587.4 Q538,581.5 543.5,579.5 Q547.5,579.5 548.5,583.5 Q548.5,587.5 545,589" fill="none" stroke="#000" stroke-width="1.5" stroke-linejoin="round" stroke-linecap="round" />
<path d="M543.5,579.5 L546.5,588.8" fill="none" stroke="#000" stroke-width="0.9" stroke-linejoin="round" stroke-linecap="round" />
<ellipse cx="553.7" cy="583.2" rx="2.3" ry="1.4" transform="rotate(0 553.7 583.2)" fill="#fff" stroke="#000" stroke-width="1.0"/>
<path d="M556.4,561.6 L556.8,568.4 Q559,569.5 561.3,568.4 L561.3,561.6" fill="#fff" stroke="#000" stroke-width="1.0" stroke-linejoin="round" stroke-linecap="round" />
<path d="M556.5,563.5 l4.8,-.6 M556.6,565.5 l4.7,-.6 M556.7,567.5 l4.6,-.6" fill="none" stroke="#000" stroke-width="1.0" stroke-linejoin="round" stroke-linecap="round" />
<path d="M554.5,556.5 L554.8,559.5 Q560,563.5 567.5,560 L567.7,556.5" fill="#fff" stroke="#000" stroke-width="1.1" stroke-linejoin="round" stroke-linecap="round" />
<ellipse cx="561.1" cy="556.5" rx="6.5" ry="3.4" transform="rotate(8 561.1 556.5)" fill="#fff" stroke="#000" stroke-width="1.1"/>
<ellipse cx="562.2" cy="555.4" rx="4.0" ry="2.5" transform="rotate(8 562.2 555.4)" fill="#fff" stroke="#000" stroke-width="1.0"/>
<line x1="557.5" y1="570" x2="553.7" y2="583" stroke="#000" stroke-width="0.9"/>
<path d="M610.9,672.9 C615,677 619,684 621.3,691.6 C622.5,696 622.3,701 621.7,704.9 L618,705 L615.4,698.3 L615.9,695 C614.5,691 613,688.5 611.3,686.6 L613.8,682.5 C612.5,678.5 611,676 609.6,673.7 Z" fill="#fff" stroke="#000" stroke-width="1.0" stroke-linejoin="round" stroke-linecap="round" />
<path d="M610.9,672.9 C615,677 619,684 621.3,691.6 C622.5,696 622.3,701 621.7,704.9" fill="none" stroke="#000" stroke-width="1.9" stroke-linejoin="round" stroke-linecap="round" />
<path d="M609.8,678.5 L611,680 M613.5,683.5 L614.5,685.5" fill="none" stroke="#000" stroke-width="1.6" stroke-linejoin="round" stroke-linecap="round" />
<path d="M608.4,702.4 Q609.5,699.5 614.6,698.7 L622.5,707.5 L614.5,714.5 Q610,712 608.4,706 Z" fill="#fff" stroke="#000" stroke-width="1.1" stroke-linejoin="round" stroke-linecap="round" />
<ellipse cx="618.8" cy="710.9" rx="5.2" ry="3.6" transform="rotate(-38 618.8 710.9)" fill="#fff" stroke="#000" stroke-width="1.4"/>
<line x1="614.6" y1="698.7" x2="619.5" y2="706" stroke="#000" stroke-width="0.9"/>
<path d="M593,684 L599.5,683.8 Q601,686 599.5,688.5 L593,688.5 Z" fill="#fff" stroke="#000" stroke-width="1.0" stroke-linejoin="round" stroke-linecap="round" />
<path d="M595,683.9 v4.6 M596.8,683.9 v4.6 M598.4,683.9 v4.6" fill="none" stroke="#000" stroke-width="1.0" stroke-linejoin="round" stroke-linecap="round" />
<path d="M588,681.5 L591.5,681.5 Q593.5,683.5 593.3,688 Q593,692.5 591,694 L588,693.8" fill="#fff" stroke="#000" stroke-width="1.1" stroke-linejoin="round" stroke-linecap="round" />
<ellipse cx="588.0" cy="687.6" rx="3.9" ry="6.0" transform="rotate(0 588.0 687.6)" fill="#fff" stroke="#000" stroke-width="1.1"/>
<path d="M585.5,684 L590.5,685 M585.5,691 L590.5,690 M590.5,685 L590.5,690" fill="none" stroke="#000" stroke-width="0.8" stroke-linejoin="round" stroke-linecap="round" />
<line x1="602.1" y1="685.4" x2="613.4" y2="684.1" stroke="#000" stroke-width="0.9"/>
<path d="M97.9,818.7 L110.4,797.9 L113.2,799.3 L114.1,802.9 L134.1,792.1 L136.6,792.6 L137.8,793.7 L137.8,809.1 L114.1,821.6 L114.5,828.3 Z" fill="#fff" stroke="#000" stroke-width="1.2" stroke-linejoin="round" stroke-linecap="round" />
<path d="M100,819.1 L112.5,799.1 M115,805 L135.3,794.3 L136.5,794.2 M136.3,794.5 L136.3,809.8" fill="none" stroke="#000" stroke-width="0.9" stroke-linejoin="round" stroke-linecap="round" />
<g transform="translate(114.6 820.2) skewY(-27.5) scale(0.86 1.5)"><text x="0" y="0" style="font-family:'Liberation Sans',sans-serif;font-weight:bold;font-style:italic;font-size:11.8px;fill:#000;stroke:#000;stroke-width:0.6px">FWD</text></g>
<text transform="translate(104.2 96.3) scale(1.25 1)" text-anchor="middle">1</text>
<text transform="translate(272.1 96.7) scale(1.25 1)" text-anchor="middle">9</text>
<text transform="translate(348.9 103.2) scale(1.25 1)" text-anchor="middle">9</text>
<text transform="translate(353.7 139.9) scale(1.25 1)" text-anchor="middle">4</text>
<text transform="translate(346.6 172.0) scale(1.25 1)" text-anchor="middle">5</text>
<text transform="translate(340.4 202.3) scale(1.25 1)" text-anchor="middle">3</text>
<text transform="translate(185.1 190.9) scale(1.25 1)" text-anchor="middle">2</text>
<text transform="translate(168.5 214.9) scale(1.25 1)" text-anchor="middle">10</text>
<text transform="translate(337.0 225.9) scale(1.25 1)" text-anchor="middle">6</text>
<text transform="translate(382.3 207.7) scale(1.25 1)" text-anchor="middle">8</text>
<text transform="translate(102.5 233.0) scale(1.25 1)" text-anchor="middle">12</text>
<text transform="translate(208.7 297.0) scale(1.25 1)" text-anchor="middle">11</text>
<text transform="translate(316.2 295.8) scale(1.25 1)" text-anchor="middle">7</text>
<text transform="translate(360.2 298.5) scale(1.25 1)" text-anchor="middle">8</text>
<text transform="translate(302.9 326.0) scale(1.25 1)" text-anchor="middle">13</text>
<text transform="translate(296.5 353.2) scale(1.25 1)" text-anchor="middle">15</text>
<text transform="translate(292.7 378.2) scale(1.25 1)" text-anchor="middle">14</text>
<text transform="translate(111.2 358.9) scale(1.25 1)" text-anchor="middle">21</text>
<text transform="translate(149.8 359.9) scale(1.25 1)" text-anchor="middle">22</text>
<text transform="translate(209.1 351.0) scale(1.25 1)" text-anchor="middle">22</text>
<text transform="translate(505.1 227.3) scale(1.25 1)" text-anchor="middle">16</text>
<text transform="translate(518.5 265.5) scale(1.25 1)" text-anchor="middle">17</text>
<text transform="translate(480.2 419.6) scale(1.25 1)" text-anchor="middle">19</text>
<text transform="translate(168.1 440.0) scale(1.25 1)" text-anchor="middle">26</text>
<text transform="translate(137.7 474.5) scale(1.25 1)" text-anchor="middle">27</text>
<text transform="translate(367.4 434.2) scale(1.25 1)" text-anchor="middle">25</text>
<text transform="translate(368.2 465.2) scale(1.25 1)" text-anchor="middle">24</text>
<text transform="translate(248.7 573.7) scale(1.25 1)" text-anchor="middle">18</text>
<text transform="translate(299.7 576.5) scale(1.25 1)" text-anchor="middle">20</text>
<text transform="translate(374.5 600.7) scale(1.25 1)" text-anchor="middle">23</text>
<text transform="translate(546.9 530.0) scale(1.25 1)" text-anchor="middle">25</text>
<text transform="translate(524.0 552.4) scale(1.25 1)" text-anchor="middle">24</text>
<text transform="translate(450.2 651.3) scale(1.25 1)" text-anchor="middle">20</text>
<text transform="translate(108.2 630.0) scale(1.25 1)" text-anchor="middle">22</text>
<text transform="translate(146.3 646.5) scale(1.25 1)" text-anchor="middle">21</text>
<text transform="translate(587.0 659.8) scale(1.25 1)" text-anchor="middle">27</text>
<text transform="translate(617.2 652.7) scale(1.25 1)" text-anchor="middle">26</text>
<text transform="translate(501.8 846.2) scale(1.25 1)" text-anchor="middle">21</text>
<text transform="translate(531.9 851.5) scale(1.25 1)" text-anchor="middle">22</text>
<text transform="translate(122.6 846.3) scale(1.2 1)" text-anchor="middle" style="font-size:11.7px">B161110-R380</text>
</svg>
</body></html>
